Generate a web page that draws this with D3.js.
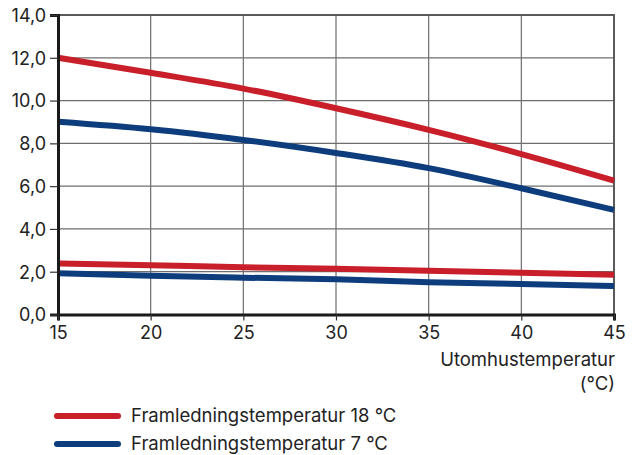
<!DOCTYPE html>
<html><head><meta charset="utf-8">
<script src="https://cdn.jsdelivr.net/npm/d3@7"></script>
<style>
html,body{margin:0;padding:0;background:#fff;}
text{font-family:Inter,sans-serif;fill:#222;}
</style></head>
<body>
<svg id="c" width="634" height="455"></svg>
<script>
const temps = [15, 20, 25, 30, 35, 40, 45];
const red18Upper = [12.0, 11.30, 10.56, 9.64, 8.63, 7.50, 6.26];
const blue7Upper = [9.01, 8.66, 8.16, 7.55, 6.84, 5.90, 4.89];
const red18Lower = [2.38, 2.30, 2.21, 2.14, 2.05, 1.95, 1.86];
const blue7Lower = [1.93, 1.81, 1.72, 1.65, 1.51, 1.43, 1.33];
const xTicks = [15, 20, 25, 30, 35, 40, 45];
const yTicks = [0, 2, 4, 6, 8, 10, 12, 14];
const legendLabels = ["Framledningstemperatur 18 °C", "Framledningstemperatur 7 °C"];
const RED = "#c81f2a", BLUE = "#0e3d7e";

const svg = d3.select("#c");
const L = 58, R = 614, T = 15, B = 314.5;
const x = d3.scaleLinear().domain([15, 45]).range([L, R]);
const y = d3.scaleLinear().domain([0, 14]).range([B, T]);

// grid
const g = svg.append("g");
g.selectAll(".vx").data(xTicks.slice(1, -1)).join("line")
  .attr("x1", d => x(d)).attr("x2", d => x(d)).attr("y1", T).attr("y2", B)
  .attr("stroke", "#6e6e6e").attr("stroke-width", 1.2);
g.selectAll(".hy").data(yTicks.slice(1, -1)).join("line")
  .attr("x1", L).attr("x2", R).attr("y1", d => y(d)).attr("y2", d => y(d))
  .attr("stroke", "#6e6e6e").attr("stroke-width", 1.2);
// top/right frame
svg.append("path").attr("d", `M${L},${y(14)}H${R}V${B}`).attr("fill", "none")
  .attr("stroke", "#5a5a5a").attr("stroke-width", 2);

// lines
const line = d3.line().x((d, i) => x(temps[i])).y(d => y(d)).curve(d3.curveMonotoneX);
[[red18Upper, RED], [blue7Upper, BLUE], [red18Lower, RED], [blue7Lower, BLUE]].forEach(([s, c]) => {
  svg.append("path").attr("d", line(s)).attr("fill", "none").attr("stroke", c)
    .attr("stroke-width", 6);
});

// axes
const yAxis = d3.axisLeft(y).tickValues(yTicks).tickSize(8).tickPadding(4)
  .tickFormat(d => d3.format(".1f")(d).replace(".", ","));
const ya = svg.append("g").attr("transform", `translate(${L},0)`).call(yAxis);
ya.attr("font-family", null).attr("font-size", null);
ya.select(".domain").attr("stroke", "#1a1a1a").attr("stroke-width", 3);
ya.selectAll(".tick line").attr("stroke", "#333").attr("stroke-width", 1.2);
ya.selectAll(".tick text").style("font-size", "18px").attr("fill", "#222").attr("dy", "0.35em");

const xAxis = d3.axisBottom(x).tickValues(xTicks).tickSize(6).tickPadding(6);
const xa = svg.append("g").attr("transform", `translate(0,${B})`).call(xAxis);
xa.attr("font-family", null).attr("font-size", null);
xa.select(".domain").attr("stroke", "#1a1a1a").attr("stroke-width", 3);
xa.selectAll(".tick line").attr("stroke", "#333").attr("stroke-width", 1.2);
xa.selectAll(".tick text").style("font-size", "18px").attr("fill", "#222");

svg.append("text").attr("x", 615).attr("y", 366).attr("text-anchor", "end")
  .style("font-size", "18.5px").text("Utomhustemperatur");
svg.append("text").attr("x", 615).attr("y", 390).attr("text-anchor", "end")
  .style("font-size", "18.5px").text("(°C)");

// legend
const leg = svg.append("g");
[RED, BLUE].forEach((c, i) => {
  const yy = 416 + i * 28;
  leg.append("line").attr("x1", 57).attr("x2", 118).attr("y1", yy).attr("y2", yy)
    .attr("stroke", c).attr("stroke-width", 6).attr("stroke-linecap", "round");
  leg.append("text").attr("x", 131).attr("y", yy).attr("dy", "0.35em")
    .style("font-size", "18.5px").text(legendLabels[i]);
});
</script>
</body></html>
